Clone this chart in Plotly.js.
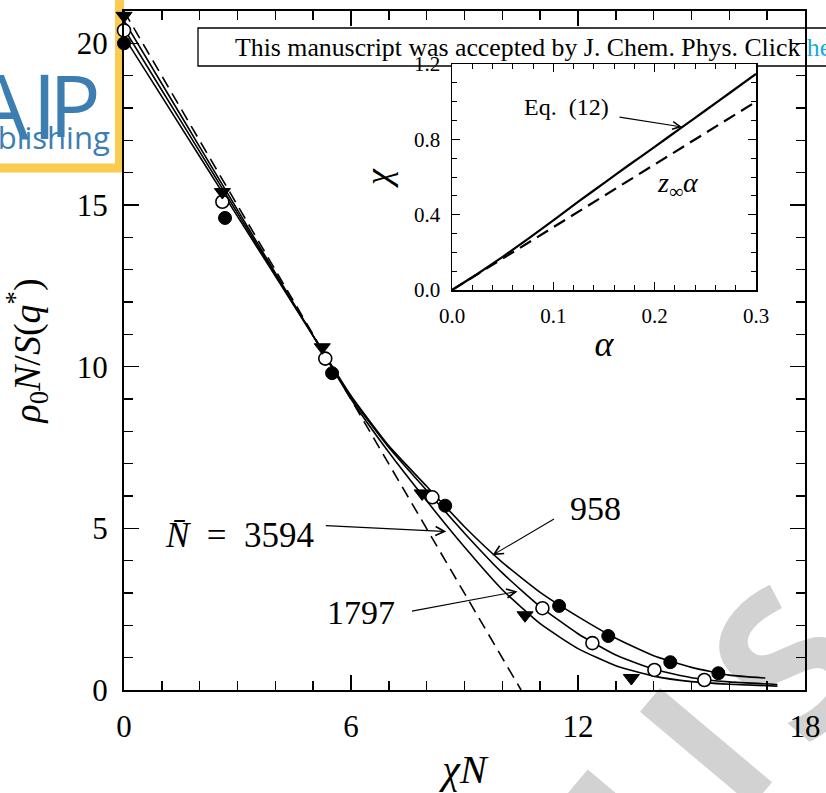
<!DOCTYPE html>
<html>
<head>
<meta charset="utf-8">
<script src="https://cdn.plot.ly/plotly-3.0.1.min.js"></script>
<style>
  html, body { margin: 0; padding: 0; background: #ffffff; }
  #chart { width: 826px; height: 793px; }
</style>
</head>
<body>
<div id="chart"></div>
<script>
// ---- main panel: rho0 N / S(q*) versus chi N ----
// simulation points, N-bar = 958 (filled circles)
const chiN958 = [0, 2.67, 5.5, 8.49, 11.5, 12.8, 14.44, 15.71];
const inv958  = [20.0, 14.6, 9.8, 5.7, 2.6, 1.67, 0.86, 0.52];
// simulation points, N-bar = 1797 (open circles)
const chiN1797 = [0, 2.6, 5.32, 8.15, 11.06, 12.38, 14.02, 15.34];
const inv1797  = [20.4, 15.1, 10.25, 5.96, 2.53, 1.45, 0.62, 0.31];
// simulation points, N-bar = 3594 (down triangles)
const chiN3594 = [0, 2.6, 5.24, 7.88, 10.6, 13.41];
const inv3594  = [20.85, 15.4, 10.6, 6.08, 2.31, 0.37];

// theory curves
const curveX958  = [0, 1, 2, 3, 4, 5, 6, 7, 8, 9, 10, 11, 12, 13, 14, 15, 16, 16.95];
const curveY958  = [20.2, 18.35, 16.5, 14.65, 12.8, 10.95, 9.1, 7.55, 6.3, 5.05, 3.95, 3.02, 2.27, 1.6, 1.06, 0.7, 0.46, 0.37];
const curveX1797 = [0, 1, 2, 3, 4, 5, 6, 7, 8, 9, 10, 11, 12, 13, 14, 15, 16, 17.27];
const curveY1797 = [20.45, 18.55, 16.65, 14.75, 12.85, 10.95, 9.05, 7.5, 6.17, 4.85, 3.62, 2.58, 1.74, 1.08, 0.64, 0.38, 0.25, 0.17];
const curveX3594 = [0, 1, 2, 3, 4, 5, 6, 7, 8, 9, 10, 11, 12, 13, 14, 15, 16, 17.27];
const curveY3594 = [20.7, 18.75, 16.8, 14.85, 12.9, 10.95, 9.0, 7.35, 5.85, 4.42, 3.1, 2.05, 1.28, 0.75, 0.43, 0.26, 0.18, 0.12];

// mean-field line 2 (chi_s N - chi N)
const mfX = [0, 10.495];
const mfY = [20.99, 0];

// ---- inset: chi versus alpha ----
const alpha   = [0, 0.025, 0.05, 0.075, 0.1, 0.125, 0.15, 0.175, 0.2, 0.225, 0.25, 0.275, 0.3];
const chiEq12 = [0, 0.085, 0.176, 0.272, 0.37, 0.47, 0.568, 0.665, 0.76, 0.857, 0.953, 1.05, 1.147];
const alphaLin = [0, 0.3];
const chiLin   = [0, 1.0];

// tick labels
const mainXTicks = [0, 6, 12, 18];
const mainYTicks = [0, 5, 10, 15, 20];
const insetXTicks = [0, 0.1, 0.2, 0.3];
const insetYTicks = [0, 0.4, 0.8, 1.2];

// ---- page geometry helpers (pixel -> paper fraction) ----
const W = 826, H = 793;
const M = { l: 124, r: 21, t: 11, b: 103 };
const px = x => (x - M.l) / (W - M.l - M.r);
const py = y => (H - M.b - y) / (H - M.t - M.b);

const SERIF = '"Liberation Serif", "Times New Roman", serif';
const SANS = '"Open Sans", "DejaVu Sans", sans-serif';
const LOGO_BLUE = '#3D7EB2';

const lineStyle = { color: '#000', width: 1.6, shape: 'spline', smoothing: 0.5 };

const traces = [
  { x: mfX, y: mfY, mode: 'lines', line: { color: '#000', width: 1.6, dash: '12px,7px' }, hoverinfo: 'skip' },
  { x: curveX958, y: curveY958, mode: 'lines', line: lineStyle },
  { x: curveX1797, y: curveY1797, mode: 'lines', line: lineStyle },
  { x: curveX3594, y: curveY3594, mode: 'lines', line: lineStyle },
  { x: chiN958, y: inv958, mode: 'markers', cliponaxis: false,
    marker: { symbol: 'circle', size: 13, color: '#000', line: { color: '#000', width: 1 } } },
  { x: chiN1797, y: inv1797, mode: 'markers', cliponaxis: false,
    marker: { symbol: 'circle', size: 13, color: '#fff', line: { color: '#000', width: 1.6 } } },
  { x: chiN3594, y: inv3594, mode: 'markers', cliponaxis: false,
    marker: { symbol: 'triangle-down', size: 14, color: '#000', line: { color: '#000', width: 1 } } },
  // inset
  { x: alpha, y: chiEq12, xaxis: 'x2', yaxis: 'y2', mode: 'lines',
    line: { color: '#000', width: 2.2, shape: 'spline', smoothing: 0.4 } },
  { x: alphaLin, y: chiLin, xaxis: 'x2', yaxis: 'y2', mode: 'lines',
    line: { color: '#000', width: 2.2, dash: '13px,7px' } }
];

const mainAxis = {
  showline: true, linecolor: '#000', linewidth: 2, mirror: 'allticks',
  ticks: 'inside', ticklen: 15, tickwidth: 1.6, tickcolor: '#000',
  showgrid: false, zeroline: false,
  tickfont: { family: SERIF, size: 31, color: '#000' },
  ticklabelstandoff: 8
};

const insetAxis = {
  showline: true, linecolor: '#000', linewidth: 1.5, mirror: 'allticks',
  ticks: 'inside', ticklen: 8, tickwidth: 1.2, tickcolor: '#000',
  showgrid: false, zeroline: false,
  tickfont: { family: SERIF, size: 21, color: '#000' },
  ticklabelstandoff: 6
};

// grey watermark lettering in the lower-right corner, drawn as labels of
// invisible shapes in the lower layer so axis labels stay on top of it
const watermarkFont = { family: SANS, size: 205, weight: 'bold', color: '#d2d2d2' };
function watermarkLetter(ch, cx, cy) {
  return {
    type: 'rect', xref: 'paper', yref: 'paper', layer: 'below',
    x0: px(cx - 1), x1: px(cx + 1), y0: py(cy + 1), y1: py(cy - 1),
    line: { width: 0 }, fillcolor: 'rgba(0,0,0,0)',
    label: { text: ch, textangle: -50, textposition: 'middle center', font: watermarkFont }
  };
}

const layout = {
  width: W, height: H,
  margin: M,
  paper_bgcolor: '#fff', plot_bgcolor: '#fff',
  showlegend: false,
  xaxis: Object.assign({}, mainAxis, {
    range: [0, 18], tickvals: mainXTicks, ticktext: mainXTicks.map(String),
    minor: { dtick: 1, ticks: 'inside', ticklen: 9, tickwidth: 1.4, tickcolor: '#000' },
    title: { text: '<i>χN</i>', font: { family: SERIF, size: 40, color: '#000' }, standoff: 12 }
  }),
  yaxis: Object.assign({}, mainAxis, {
    range: [0, 21], tickvals: mainYTicks, ticktext: mainYTicks.map(String), automargin: true,
    minor: { dtick: 1, ticks: 'inside', ticklen: 9, tickwidth: 1.4, tickcolor: '#000' },
    title: { text: '<i>ρ</i><sub>0</sub><i>N</i>/<i>S</i>(<i>q</i><sup>*</sup>)', font: { family: SERIF, size: 38, color: '#000' }, standoff: 36 }
  }),
  xaxis2: Object.assign({}, insetAxis, {
    domain: [px(452), px(756)], anchor: 'y2',
    range: [0, 0.3], tickvals: insetXTicks, ticktext: insetXTicks.map(v => v.toFixed(1)),
    minor: { dtick: 0.02, ticks: 'inside', ticklen: 5, tickwidth: 1, tickcolor: '#000' },
    title: { text: '<i>α</i>', font: { family: SERIF, size: 36, color: '#000' }, standoff: 4 }
  }),
  yaxis2: Object.assign({}, insetAxis, {
    domain: [py(290), py(64)], anchor: 'x2',
    range: [0, 1.2], tickvals: insetYTicks, ticktext: insetYTicks.map(v => v.toFixed(1)),
    minor: { dtick: 0.1, ticks: 'inside', ticklen: 5, tickwidth: 1, tickcolor: '#000' },
    title: { text: '<i>χ</i>', font: { family: SERIF, size: 36, color: '#000' }, standoff: 12 }
  }),
  shapes: [
    watermarkLetter('S', 795, 668),
    watermarkLetter('I', 712, 752),
    watermarkLetter('L', 655, 815),
    // publisher logo frame
    { type: 'rect', xref: 'paper', yref: 'paper', layer: 'below',
      x0: px(-20), x1: px(119.5), y0: py(168), y1: py(-20),
      fillcolor: '#fff', line: { color: '#FBCB4F', width: 9 } },
    // acceptance banner
    { type: 'rect', xref: 'paper', yref: 'paper', layer: 'below',
      x0: px(198), x1: px(840), y0: py(66), y1: py(28),
      fillcolor: '#fff', line: { color: '#000', width: 1.3 } }
  ],
  annotations: [
    // curve labels
    { xref: 'paper', yref: 'paper', x: px(316), y: py(535), xanchor: 'right', yanchor: 'middle',
      text: '<i>N̄</i>&nbsp;&nbsp;=&nbsp;&nbsp;3594', showarrow: false, font: { family: SERIF, size: 35, color: '#000' } },
    { xref: 'paper', yref: 'paper', x: px(568), y: py(508), xanchor: 'left', yanchor: 'middle',
      text: '958', showarrow: false, font: { family: SERIF, size: 34, color: '#000' } },
    { xref: 'paper', yref: 'paper', x: px(397), y: py(612), xanchor: 'right', yanchor: 'middle',
      text: '1797', showarrow: false, font: { family: SERIF, size: 34, color: '#000' } },
    // arrows pointing to the curves
    { x: 8.52, y: 4.9, text: '', showarrow: true, ax: -122, ay: -6,
      arrowhead: 5, arrowsize: 1.6, arrowwidth: 1.1, arrowcolor: '#000', standoff: 0 },
    { x: 9.74, y: 4.17, text: '', showarrow: true, ax: 63, ay: -37,
      arrowhead: 5, arrowsize: 1.6, arrowwidth: 1.1, arrowcolor: '#000', standoff: 0 },
    { x: 10.4, y: 3.05, text: '', showarrow: true, ax: -107, ay: 20,
      arrowhead: 5, arrowsize: 1.6, arrowwidth: 1.1, arrowcolor: '#000', standoff: 0 },
    // inset labels
    { xref: 'paper', yref: 'paper', x: px(566), y: py(107), xanchor: 'center', yanchor: 'middle',
      text: 'Eq.  (12)', showarrow: false, font: { family: SERIF, size: 24, color: '#000' } },
    { xref: 'x2', yref: 'y2', x: 0.227, y: 0.866, text: '', showarrow: true, ax: -64, ay: -10,
      arrowhead: 5, arrowsize: 1.4, arrowwidth: 1.1, arrowcolor: '#000', standoff: 0 },
    { xref: 'paper', yref: 'paper', x: px(678), y: py(184), xanchor: 'center', yanchor: 'middle',
      text: '<i>z</i><sub>∞</sub><i>α</i>', showarrow: false, font: { family: SERIF, size: 28, color: '#000' } },
    // banner text
    { xref: 'paper', yref: 'paper', x: px(233), y: py(47), xanchor: 'left', yanchor: 'middle',
      text: 'This manuscript was accepted by J. Chem. Phys. Click <span style="color:#1BA9D9">here</span>',
      showarrow: false, font: { family: SERIF, size: 25.8, color: '#000' } },
    // logo text
    { xref: 'paper', yref: 'paper', x: px(31), y: py(104), xanchor: 'right', yanchor: 'middle',
      text: 'A', showarrow: false, font: { family: SANS, size: 90, color: LOGO_BLUE } },
    { xref: 'paper', yref: 'paper', x: px(44), y: py(104), xanchor: 'center', yanchor: 'middle',
      text: 'I', showarrow: false, font: { family: SANS, size: 90, color: LOGO_BLUE } },
    { xref: 'paper', yref: 'paper', x: px(47), y: py(104), xanchor: 'left', yanchor: 'middle',
      text: 'P', showarrow: false, font: { family: SANS, size: 86, color: LOGO_BLUE } },
    { xref: 'paper', yref: 'paper', x: px(112), y: py(137), xanchor: 'right', yanchor: 'middle',
      text: 'Publishing', showarrow: false, font: { family: SANS, size: 31, color: LOGO_BLUE } }
  ]
};

Plotly.newPlot('chart', traces, layout, { staticPlot: true, displayModeBar: false });
</script>
</body>
</html>
